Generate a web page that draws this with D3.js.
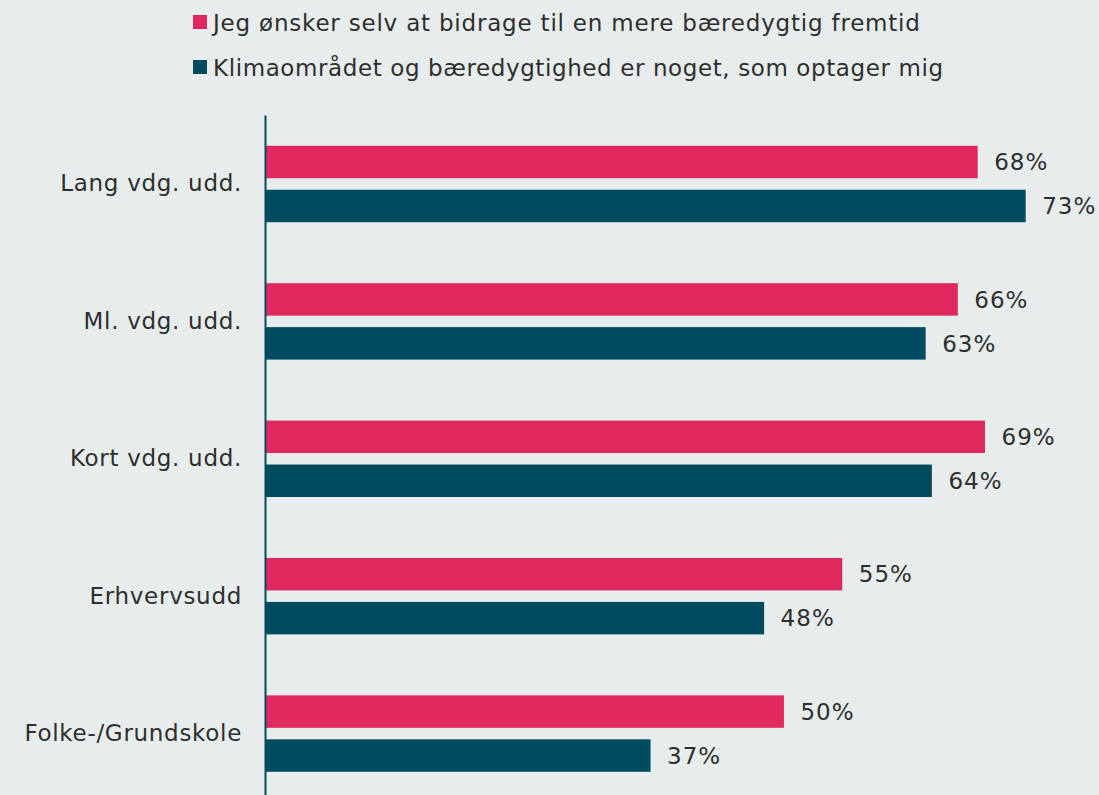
<!DOCTYPE html>
<html>
<head>
<meta charset="utf-8">
<script src="https://cdn.jsdelivr.net/npm/d3@7"></script>
<style>
  html, body { margin: 0; padding: 0; background: #e7eded; }
  text { font-family: "DejaVu Sans", Verdana, sans-serif; fill: #2e2e2e; letter-spacing: 0.7px; }
</style>
</head>
<body>
<svg width="1099" height="795"></svg>
<script>
var categories = ["Lang vdg. udd.", "Ml. vdg. udd.", "Kort vdg. udd.", "Erhvervsudd", "Folke-/Grundskole"];
var seriesNames = ["Jeg ønsker selv at bidrage til en mere bæredygtig fremtid",
                   "Klimaområdet og bæredygtighed er noget, som optager mig"];
var bidrage = [68.4, 66.49, 69.1, 55.4, 49.8];
var optager = [73.0, 63.4, 64.0, 47.9, 37.0];
var colors = ["#e0295e", "#004b5f"];

var data = categories.map(function(c, i) {
  return {cat: c, values: [bidrage[i], optager[i]]};
});

var svg = d3.select("svg"),
    width = +svg.attr("width"),
    height = +svg.attr("height"),
    margin = {top: 115, left: 265};

var x = d3.scaleLinear()
    .domain([0, 80])
    .range([margin.left, margin.left + 80 * 10.42]);

var y = d3.scaleBand()
    .domain(categories)
    .range([margin.top, height])
    .paddingInner(0.444)
    .paddingOuter(0.1966)
    .align(0.57);

var y1 = d3.scaleBand()
    .domain([0, 1])
    .range([0, y.bandwidth()])
    .paddingInner(0.262);

// legend
var legend = svg.append("g")
  .selectAll("g")
  .data(seriesNames)
  .enter().append("g")
    .attr("transform", function(d, i) { return "translate(193," + (15 + i * 45) + ")"; });

legend.append("rect")
    .attr("width", 14)
    .attr("height", 14)
    .attr("fill", function(d, i) { return colors[i]; });

legend.append("text")
    .attr("x", 20)
    .attr("y", 16)
    .attr("font-size", 23)
    .style("letter-spacing", function(d, i) { return i ? "0.6px" : "0.8px"; })
    .text(function(d) { return d; });

// bars
var groups = svg.append("g")
  .selectAll("g")
  .data(data)
  .enter().append("g")
    .attr("transform", function(d) { return "translate(0," + y(d.cat) + ")"; });

groups.selectAll("rect")
  .data(function(d) { return d.values; })
  .enter().append("rect")
    .attr("x", x(0))
    .attr("y", function(d, i) { return y1(i); })
    .attr("width", function(d) { return x(d) - x(0); })
    .attr("height", y1.bandwidth())
    .attr("fill", function(d, i) { return colors[i]; });

groups.selectAll("text")
  .data(function(d) { return d.values; })
  .enter().append("text")
    .attr("x", function(d) { return x(d) + 16.5; })
    .attr("y", function(d, i) { return y1(i) + y1.bandwidth() / 2; })
    .attr("dy", "0.36em")
    .attr("font-size", 23)
    .style("letter-spacing", "1px")
    .text(function(d) { return Math.round(d) + "%"; });

// axis
var axis = svg.append("g")
    .attr("transform", "translate(" + margin.left + ",0)")
    .call(d3.axisLeft(y).tickSize(0).tickPadding(23));

axis.select(".domain")
    .attr("stroke", "#004b5f")
    .attr("stroke-width", 2);

axis.selectAll(".tick text")
    .attr("font-size", 23)
    .attr("font-family", "DejaVu Sans, Verdana, sans-serif")
    .attr("fill", "#2e2e2e");
</script>
</body>
</html>
